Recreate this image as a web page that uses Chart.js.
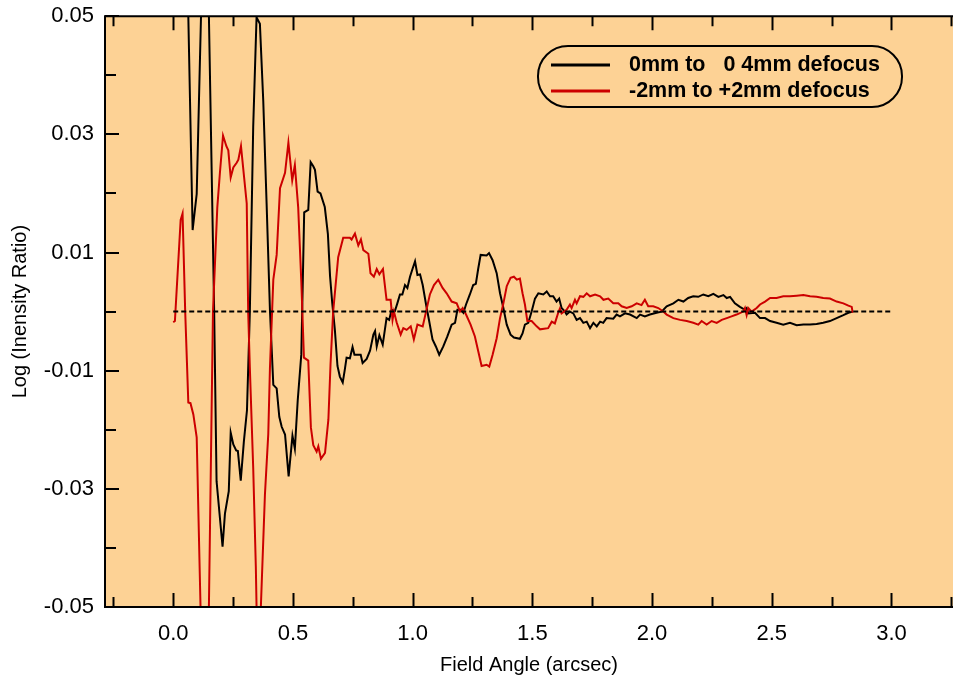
<!DOCTYPE html>
<html>
<head>
<meta charset="utf-8">
<title>Log intensity ratio vs field angle</title>
<script src="https://cdn.jsdelivr.net/npm/chart.js@4.4.1/dist/chart.umd.min.js"></script>
<style>
  html, body { margin: 0; padding: 0; background: #ffffff; }
  #wrap { position: relative; width: 953px; height: 683px; }
</style>
</head>
<body>
<div id="wrap"><canvas id="ratioChart"></canvas></div>
<script>
// Field angle (arcsec) and log intensity ratio for each defocus range
const blackAngle = [
  0.000, 0.040, 0.063, 0.081, 0.098, 0.116, 0.132, 0.149, 0.171, 0.181,
  0.206, 0.216, 0.232, 0.240, 0.251, 0.263, 0.270, 0.282, 0.295, 0.308,
  0.320, 0.334, 0.348, 0.362, 0.376, 0.390, 0.404, 0.418, 0.432, 0.443,
  0.453, 0.467, 0.482, 0.498, 0.508, 0.520, 0.535, 0.547, 0.564, 0.574,
  0.585, 0.592, 0.603, 0.615, 0.633, 0.646, 0.655, 0.664, 0.675, 0.686,
  0.696, 0.708, 0.716, 0.724, 0.738, 0.749, 0.757, 0.770, 0.783, 0.791,
  0.808, 0.822, 0.836, 0.843, 0.850, 0.861, 0.875, 0.891, 0.902, 0.912,
  0.926, 0.936, 0.947, 0.957, 0.968, 0.978, 0.989, 1.000, 1.010, 1.020,
  1.031, 1.042, 1.056, 1.069, 1.083, 1.097, 1.111, 1.128, 1.145, 1.163,
  1.177, 1.187, 1.201, 1.212, 1.223, 1.239, 1.253, 1.264, 1.274, 1.284,
  1.309, 1.319, 1.334, 1.351, 1.365, 1.379, 1.393, 1.409, 1.423, 1.448,
  1.459, 1.469, 1.483, 1.497, 1.511, 1.525, 1.546, 1.560, 1.574, 1.587,
  1.601, 1.612, 1.622, 1.636, 1.643, 1.657, 1.671, 1.685, 1.699, 1.713,
  1.727, 1.741, 1.755, 1.769, 1.783, 1.796, 1.810, 1.838, 1.852, 1.866,
  1.887, 1.908, 1.936, 1.950, 1.970, 1.991, 2.019, 2.040, 2.061, 2.089,
  2.110, 2.131, 2.151, 2.172, 2.193, 2.214, 2.235, 2.256, 2.277, 2.298,
  2.312, 2.326, 2.346, 2.367, 2.388, 2.395, 2.402, 2.430, 2.451, 2.472,
  2.493, 2.520, 2.548, 2.576, 2.604, 2.632, 2.660, 2.687, 2.715, 2.743,
  2.771, 2.799, 2.820, 2.838
];
const blackRatio = [
  0.0800, 0.0680, 0.0500, 0.0138, 0.0199, 0.0500, 0.0850, 0.0500, 0.0000, -0.0287,
  -0.0398, -0.0342, -0.0304, -0.0205, -0.0225, -0.0235, -0.0236, -0.0286, -0.0220, -0.0167,
  0.0000, 0.0312, 0.0498, 0.0487, 0.0357, 0.0183, 0.0002, -0.0124, -0.0130, -0.0178,
  -0.0195, -0.0208, -0.0279, -0.0210, -0.0232, -0.0150, -0.0072, 0.0168, 0.0172, 0.0253,
  0.0246, 0.0240, 0.0203, 0.0200, 0.0177, 0.0131, 0.0060, 0.0015, -0.0030, -0.0092,
  -0.0110, -0.0120, -0.0100, -0.0078, -0.0079, -0.0060, -0.0073, -0.0073, -0.0073, -0.0087,
  -0.0080, -0.0066, -0.0039, -0.0033, -0.0059, -0.0040, -0.0056, -0.0011, -0.0014, 0.0003,
  0.0001, 0.0014, 0.0029, 0.0029, 0.0045, 0.0040, 0.0059, 0.0073, 0.0085, 0.0062,
  0.0063, 0.0045, 0.0012, -0.0016, -0.0047, -0.0059, -0.0073, -0.0059, -0.0042, -0.0022,
  -0.0019, 0.0003, 0.0003, -0.0002, 0.0012, 0.0029, 0.0045, 0.0047, 0.0073, 0.0096,
  0.0095, 0.0099, 0.0087, 0.0065, 0.0031, 0.0006, -0.0022, -0.0039, -0.0044, -0.0046,
  -0.0037, -0.0022, -0.0019, 0.0000, 0.0022, 0.0031, 0.0029, 0.0034, 0.0026, 0.0026,
  0.0017, 0.0022, 0.0006, 0.0000, -0.0005, 0.0000, -0.0003, -0.0014, -0.0011, -0.0019,
  -0.0017, -0.0028, -0.0019, -0.0025, -0.0017, -0.0019, -0.0011, -0.0012, -0.0005, -0.0008,
  -0.0003, -0.0005, -0.0011, -0.0005, -0.0008, -0.0005, -0.0002, 0.0000, 0.0009, 0.0014,
  0.0020, 0.0017, 0.0023, 0.0026, 0.0025, 0.0029, 0.0026, 0.0030, 0.0025, 0.0028,
  0.0023, 0.0025, 0.0014, 0.0008, 0.0003, 0.0006, -0.0003, -0.0002, -0.0011, -0.0011,
  -0.0016, -0.0019, -0.0022, -0.0019, -0.0023, -0.0022, -0.0022, -0.0021, -0.0019, -0.0016,
  -0.0011, -0.0006, -0.0002, 0.0000
];

const redAngle = [
  0.000, 0.007, 0.031, 0.039, 0.050, 0.063, 0.072, 0.084, 0.098, 0.114,
  0.149, 0.166, 0.184, 0.195, 0.208, 0.222, 0.230, 0.240, 0.251, 0.265,
  0.272, 0.283, 0.307, 0.313, 0.320, 0.334, 0.345, 0.348, 0.366, 0.383,
  0.397, 0.404, 0.418, 0.432, 0.446, 0.467, 0.481, 0.497, 0.508, 0.522,
  0.535, 0.546, 0.564, 0.575, 0.585, 0.599, 0.606, 0.617, 0.634, 0.648,
  0.657, 0.668, 0.689, 0.710, 0.738, 0.745, 0.759, 0.773, 0.784, 0.794,
  0.815, 0.824, 0.838, 0.850, 0.861, 0.876, 0.891, 0.908, 0.916, 0.922,
  0.933, 0.950, 0.961, 0.975, 0.992, 1.005, 1.020, 1.042, 1.056, 1.072,
  1.089, 1.107, 1.125, 1.142, 1.163, 1.184, 1.198, 1.209, 1.223, 1.242,
  1.260, 1.274, 1.288, 1.309, 1.320, 1.334, 1.351, 1.365, 1.379, 1.393,
  1.409, 1.423, 1.435, 1.448, 1.459, 1.469, 1.479, 1.497, 1.518, 1.532,
  1.566, 1.581, 1.594, 1.608, 1.615, 1.622, 1.643, 1.657, 1.664, 1.678,
  1.685, 1.699, 1.713, 1.727, 1.741, 1.762, 1.783, 1.797, 1.817, 1.838,
  1.859, 1.873, 1.894, 1.915, 1.936, 1.956, 1.970, 1.984, 2.005, 2.026,
  2.047, 2.061, 2.089, 2.117, 2.145, 2.172, 2.193, 2.207, 2.228, 2.249,
  2.270, 2.291, 2.312, 2.332, 2.353, 2.381, 2.388, 2.395, 2.402, 2.416,
  2.437, 2.451, 2.472, 2.493, 2.520, 2.548, 2.576, 2.604, 2.632, 2.660,
  2.687, 2.715, 2.743, 2.771, 2.799, 2.820, 2.834, 2.838
];
const redRatio = [
  -0.0018, -0.0016, 0.0155, 0.0166, 0.0000, -0.0154, -0.0155, -0.0174, -0.0213, -0.0500,
  -0.0500, 0.0000, 0.0176, 0.0235, 0.0298, 0.0280, 0.0273, 0.0227, 0.0244, 0.0252,
  0.0257, 0.0280, 0.0183, 0.0000, -0.0095, -0.0264, -0.0432, -0.0500, -0.0500, -0.0310,
  -0.0207, -0.0095, 0.0054, 0.0096, 0.0209, 0.0235, 0.0286, 0.0222, 0.0248, 0.0176,
  0.0050, -0.0078, -0.0083, -0.0196, -0.0226, -0.0237, -0.0228, -0.0249, -0.0239, -0.0183,
  -0.0089, 0.0000, 0.0092, 0.0125, 0.0125, 0.0122, 0.0132, 0.0112, 0.0122, 0.0104,
  0.0098, 0.0065, 0.0059, 0.0072, 0.0063, 0.0072, 0.0020, 0.0020, -0.0014, 0.0000,
  -0.0018, -0.0039, -0.0028, -0.0031, -0.0025, -0.0047, -0.0022, -0.0025, 0.0000, 0.0029,
  0.0045, 0.0054, 0.0040, 0.0031, 0.0017, 0.0014, 0.0000, 0.0006, -0.0005, -0.0022,
  -0.0042, -0.0067, -0.0092, -0.0090, -0.0093, -0.0073, -0.0045, -0.0011, 0.0014, 0.0043,
  0.0057, 0.0059, 0.0054, 0.0056, 0.0031, 0.0012, -0.0016, -0.0016, -0.0025, -0.0030,
  -0.0028, -0.0017, -0.0020, -0.0002, 0.0005, -0.0003, 0.0003, 0.0012, 0.0006, 0.0020,
  0.0014, 0.0026, 0.0025, 0.0031, 0.0026, 0.0029, 0.0026, 0.0020, 0.0022, 0.0014,
  0.0014, 0.0009, 0.0006, 0.0009, 0.0014, 0.0011, 0.0020, 0.0009, 0.0009, 0.0006,
  0.0000, -0.0005, -0.0011, -0.0014, -0.0016, -0.0019, -0.0022, -0.0016, -0.0022, -0.0016,
  -0.0019, -0.0014, -0.0011, -0.0008, -0.0005, 0.0000, 0.0006, -0.0006, 0.0006, 0.0000,
  0.0006, 0.0012, 0.0017, 0.0023, 0.0023, 0.0026, 0.0026, 0.0027, 0.0028, 0.0026,
  0.0025, 0.0023, 0.0022, 0.0017, 0.0014, 0.0010, 0.0008, -0.0002
];

// Zero reference line
const zeroAngle = [0.0, 3.0];
const zeroRatio = [0.0, 0.0];

const seriesLabels = ['0mm to   0 4mm defocus', '-2mm to +2mm defocus'];

// Axis ticks
const xMajorTicks = [0.0, 0.5, 1.0, 1.5, 2.0, 2.5, 3.0];
const xMinorTicks = [-0.25, 0.25, 0.75, 1.25, 1.75, 2.25, 2.75, 3.25];
const yMajorTicks = [-0.05, -0.03, -0.01, 0.01, 0.03, 0.05];
const yMinorTicks = [-0.04, -0.02, 0.0, 0.02, 0.04];

const FONT = 'Arial, "Liberation Sans", Helvetica, sans-serif';
const BG = '#fdd295';
const RED = '#cc0000';

function toPoints(xs, ys) {
    return xs.map((x, i) => ({ x: x, y: ys[i] }));
}

// Panel fill, frame with inward ticks, and the rounded legend box
const framePlugin = {
    id: 'frame',
    beforeDraw(chart) {
        const a = chart.chartArea;
        const ctx = chart.ctx;
        ctx.save();
        ctx.fillStyle = BG;
        ctx.fillRect(a.left, a.top, a.right - a.left, a.bottom - a.top);
        ctx.restore();
    },
    afterDraw(chart) {
        const a = chart.chartArea;
        const ctx = chart.ctx;
        const xs = chart.scales.x;
        const ys = chart.scales.y;
        ctx.save();
        ctx.strokeStyle = '#000';
        ctx.lineWidth = 2;

        // frame (right edge falls outside the canvas)
        ctx.beginPath();
        ctx.moveTo(a.right + 2, a.top);
        ctx.lineTo(a.left, a.top);
        ctx.lineTo(a.left, a.bottom);
        ctx.lineTo(a.right + 2, a.bottom);
        ctx.stroke();

        ctx.beginPath();
        const xTick = (v, len) => {
            const p = Math.round(xs.getPixelForValue(v)) + 0.5;
            ctx.moveTo(p, a.bottom); ctx.lineTo(p, a.bottom - len);
            ctx.moveTo(p, a.top); ctx.lineTo(p, a.top + len);
        };
        xMajorTicks.forEach(v => xTick(v, 14));
        xMinorTicks.forEach(v => xTick(v, 10));
        const yTick = (v, len) => {
            const p = Math.round(ys.getPixelForValue(v));
            ctx.moveTo(a.left, p); ctx.lineTo(a.left + len, p);
        };
        yMajorTicks.forEach(v => yTick(v, 14));
        yMinorTicks.forEach(v => yTick(v, 11));
        ctx.stroke();

        // legend
        const bx = 538, by = 46, bw = 364, bh = 61, r = 30;
        ctx.fillStyle = BG;
        ctx.beginPath();
        ctx.roundRect(bx, by, bw, bh, r);
        ctx.fill();
        ctx.stroke();

        const rows = [
            { color: '#000', y: 65, label: chart.data.datasets[2].label },
            { color: RED, y: 91, label: chart.data.datasets[1].label }
        ];
        ctx.font = 'bold 21.5px ' + FONT;
        ctx.textBaseline = 'middle';
        ctx.textAlign = 'left';
        rows.forEach(row => {
            ctx.strokeStyle = row.color;
            ctx.lineWidth = 3;
            ctx.beginPath();
            ctx.moveTo(551, row.y);
            ctx.lineTo(610, row.y);
            ctx.stroke();
            ctx.fillStyle = '#000';
            ctx.fillText(row.label, 629, row.y);
        });
        ctx.restore();
    }
};

function initChart() {
    const ctx = document.getElementById('ratioChart').getContext('2d');
    new Chart(ctx, {
        type: 'scatter',
        data: {
            datasets: [
                {
                    label: 'zero',
                    data: toPoints(zeroAngle, zeroRatio),
                    showLine: true,
                    borderColor: '#000',
                    borderWidth: 2,
                    borderDash: [5, 3],
                    pointRadius: 0,
                    order: 0
                },
                {
                    label: seriesLabels[1],
                    data: toPoints(redAngle, redRatio),
                    showLine: true,
                    borderColor: RED,
                    borderWidth: 2,
                    pointRadius: 0,
                    tension: 0,
                    order: 1
                },
                {
                    label: seriesLabels[0],
                    data: toPoints(blackAngle, blackRatio),
                    showLine: true,
                    borderColor: '#000',
                    borderWidth: 2,
                    pointRadius: 0,
                    tension: 0,
                    order: 2
                }
            ]
        },
        options: {
            responsive: true,
            maintainAspectRatio: false,
            animation: false,
            layout: { padding: { top: 1.5, right: 0, left: 0, bottom: 0 } },
            plugins: {
                legend: { display: false },
                tooltip: { enabled: false }
            },
            scales: {
                x: {
                    type: 'linear',
                    min: -0.285,
                    max: 3.257,
                    grid: { display: false },
                    border: { display: false },
                    afterBuildTicks: s => { s.ticks = xMajorTicks.map(v => ({ value: v })); },
                    afterFit: s => { s.height = 76; },
                    ticks: {
                        color: '#000',
                        padding: 6,
                        font: { family: FONT, size: 22 },
                        callback: v => v.toFixed(1)
                    },
                    title: {
                        display: true,
                        text: 'Field Angle (arcsec)',
                        color: '#000',
                        font: { family: FONT, size: 20 },
                        padding: { top: 0, bottom: 6 }
                    }
                },
                y: {
                    min: -0.05,
                    max: 0.05,
                    grid: { display: false },
                    border: { display: false },
                    afterBuildTicks: s => { s.ticks = yMajorTicks.map(v => ({ value: v })); },
                    afterFit: s => { s.width = 105; },
                    ticks: {
                        color: '#000',
                        padding: 3,
                        font: { family: FONT, size: 22 },
                        callback: v => v.toFixed(2)
                    },
                    title: {
                        display: true,
                        text: 'Log (Inensity Ratio)',
                        color: '#000',
                        font: { family: FONT, size: 20 },
                        padding: { top: 8, bottom: 0 }
                    }
                }
            }
        },
        plugins: [framePlugin]
    });
}

window.onload = initChart;
</script>
</body>
</html>
